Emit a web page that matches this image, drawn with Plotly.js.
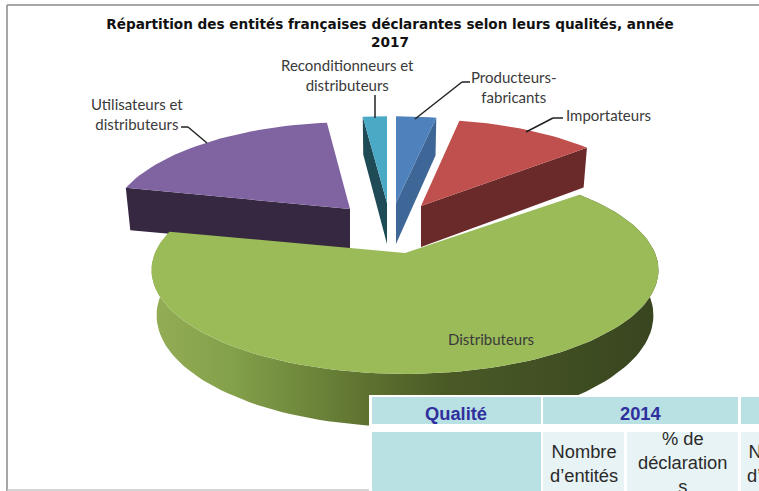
<!DOCTYPE html>
<html><head><meta charset="utf-8">
<script src="https://cdn.plot.ly/plotly-3.0.1.min.js"></script>
<style>html,body{margin:0;padding:0;background:#fff;overflow:hidden}</style></head>
<body><div id="chart" style="width:759px;height:491px"></div>
<script>
// Data (share of entities, in %)
const categories = ["Producteurs-fabricants","Importateurs","Distributeurs","Utilisateurs et distributeurs","Reconditionneurs et distributeurs"];
const shares = [3, 11, 64.5, 19.7, 1.8];
const topColors = ["#4f81bd","#c0504d","#9bbb59","#8064a2","#4aaac5"];
const sideColors = ["#3e6797","#6b2a2a","#5c6f30","#352840","#1f4b57"];

// Projection of the 3D pie
const apexes = [[396,203],[421,206],[405,253],[350,209],[387,203]];
const radii = [250,238,250,238,250];
const B = 101, K = 0.165, DEPTH = 44;

function rim(deg, i, down){
  const t = deg*Math.PI/180, u = Math.sin(t), v = -Math.cos(t), s = 1/(1-K*v);
  const x = radii[i]*u*s, y = B*v*s;
  return down ? [apexes[i][0]+x*0.98, apexes[i][1]+y+DEPTH*s] : [apexes[i][0]+x, apexes[i][1]+y];
}
function apexPt(i, down){ return [apexes[i][0], apexes[i][1]+(down?DEPTH-3:0)]; }

const total = shares.reduce((a,b)=>a+b,0);
let acc = 0;
const angles = shares.map(v=>{const a=[acc/total*360,(acc+v)/total*360]; acc+=v; return a;});

function arc(i, a0, a1, down){
  const pts=[], n=Math.max(4,Math.ceil(Math.abs(a1-a0)/2));
  for(let j=0;j<=n;j++) pts.push(rim(a0+(a1-a0)*j/n,i,down));
  return pts;
}
function poly(pts, color, extra){
  return Object.assign({type:"scatter",mode:"lines",x:pts.map(p=>p[0]).concat(pts[0][0]),y:pts.map(p=>p[1]).concat(pts[0][1]),
    fill:"toself",fillcolor:color,line:{width:0,color:color},hoverinfo:"skip",showlegend:false},extra||{});
}
const traces=[];
const cut = (i,a)=>[rim(a,i,false),apexPt(i,false),apexPt(i,true),rim(a,i,true)];
// back slices first
[3,4,0,1].forEach(i=>{
  const [a0,a1]=angles[i];
  if(i===3) traces.push(poly(cut(i,a0),sideColors[i]));
  if(i===4) traces.push(poly(cut(i,a0),sideColors[i]));
  if(i===0||i===1) traces.push(poly(cut(i,a1),sideColors[i]));
  traces.push(poly(arc(i,a0,a1,false).concat([apexPt(i,false)]),topColors[i],{name:categories[i]}));
});
// green slice: rounded side with a gradient, then top
{
  const i=2,[a0,a1]=angles[i];
  const side=arc(i,a0,a1,false).concat(arc(i,a0,a1,true).reverse());
  traces.push(poly(side,sideColors[i],{fillgradient:{type:"horizontal",colorscale:[[0,"#93ad55"],[0.16,"#83a04a"],[0.42,"#5e7330"],[0.58,"#4a5a26"],[1,"#384520"]]}}));
  traces.push(poly(arc(i,a0,a1,false).concat([apexPt(i,false)]),topColors[i],{name:categories[i]}));
}

const line=(x0,y0,x1,y1,c,w)=>({type:"line",xref:"x",yref:"y",x0,y0,x1,y1,line:{color:c||"#222",width:w||1.5},layer:"above"});
const rect=(x0,y0,x1,y1,c)=>({type:"rect",xref:"x",yref:"y",x0,y0,x1,y1,fillcolor:c,line:{width:0},layer:"above"});
const shapes=[
  line(7,5,759,5,"#8a8a8a",1.5), line(7,5,7,491,"#8a8a8a",1.5), line(7,490,370,490,"#c8c8c8",1.5),
  line(375,95,375,118), line(181,127,188,127), line(188,127,207,143),
  line(470,82,462,82), line(462,82,415,119), line(563,118,553,118), line(553,118,526,132),
  rect(369,395,759,491,"#ffffff"),
  rect(372,397,541,424,"#b9e0e3"), rect(543,397,738,424,"#b9e0e3"), rect(741,397,759,424,"#b9e0e3"),
  rect(372,432,541,491,"#b9e0e3"), rect(543,432,624,491,"#e8f3f5"), rect(627,432,738,491,"#e8f3f5"), rect(741,432,759,491,"#e8f3f5")
];
const lab=(text,x,y,align)=>({text,x,y,xref:"x",yref:"y",showarrow:false,align:align||"center",xanchor:align||"center",yanchor:"middle",
  font:{family:"Lato, Carlito, sans-serif",size:15,color:"#3a3a3a"}});
const cell=(text,x,y,bold,col)=>({text,x:x/759,y,xref:"paper",yref:"y",showarrow:false,align:"center",xanchor:"center",yanchor:"middle",
  font:{family:"Liberation Sans, Arial, sans-serif",size:18.3,color:col||"#2a2a2a",weight:bold?700:400}});
const annotations=[
  lab("Reconditionneurs et<br>distributeurs",347,75),
  lab("Utilisateurs et<br>distributeurs",137,114),
  lab("Producteurs-<br>fabricants",514,87),
  lab("Importateurs",564,115,"left"),
  lab("Distributeurs",491,339),
  cell("Qualité",456,413,true,"#2f2f9e"),
  cell("2014",641,413,true,"#2f2f9e"),
  cell("Nombre<br>d’entités",584,463),
  cell("% de<br>déclaration<br>s",682,462),
  cell("Nombre<br>d’entités",781,463)
];
Plotly.newPlot("chart",traces,{
  width:759,height:491,margin:{l:0,r:0,t:0,b:0},paper_bgcolor:"#fff",plot_bgcolor:"#fff",showlegend:false,
  title:{text:"<b>Répartition des entités françaises déclarantes selon leurs qualités, année<br>2017</b>",x:390/759,xanchor:"center",y:1-29/491,yanchor:"middle",
    font:{family:"DejaVu Sans, sans-serif",size:13.6,color:"#111"}},
  xaxis:{range:[0,759],visible:false,fixedrange:true},
  yaxis:{range:[491,0],visible:false,fixedrange:true},
  shapes,annotations
},{displayModeBar:false,staticPlot:true});
</script></body></html>
